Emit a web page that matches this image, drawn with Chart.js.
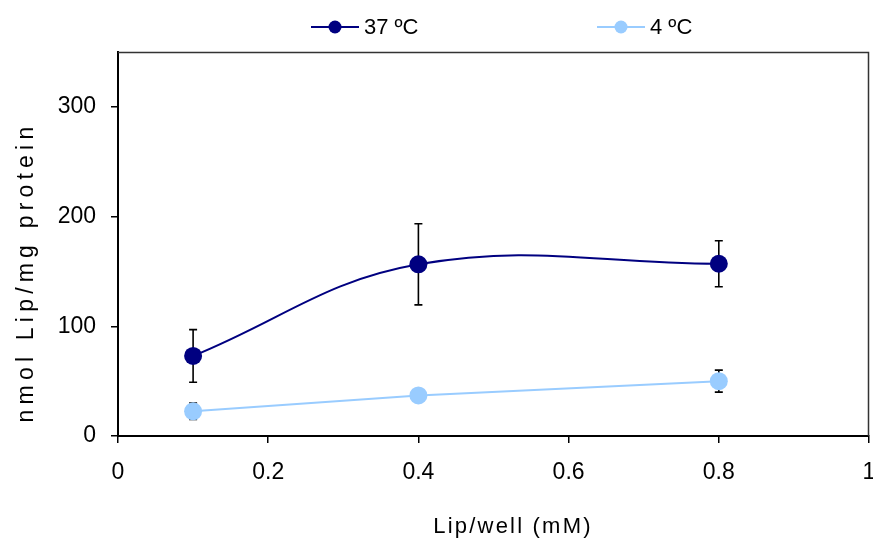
<!DOCTYPE html>
<html><head><meta charset="utf-8">
<script src="https://cdn.jsdelivr.net/npm/chart.js@4.4.1/dist/chart.umd.min.js"></script>
<style>html,body{margin:0;padding:0;background:#fff;overflow:hidden}#wrap{width:873px;height:541px;overflow:hidden}</style>
</head><body><div id="wrap"><canvas id="c" width="909" height="541"></canvas></div>
<script>
// ---- data ----
const xValues = [0.1, 0.4, 0.8];
const series37 = [73, 156.5, 157];
const error37 = [24, 37, 21];
const series4 = [22.5, 37, 50];
const error4 = [7.5, 6, 10];
const seriesLabels = ['37 ºC', '4 ºC'];
const xTicks = [0, 0.2, 0.4, 0.6, 0.8, 1];
const yTicks = [0, 100, 200, 300];
const xTitle = 'Lip/well (mM)';
const yTitle = 'nmol Lip/mg protein';

const FONT = '"Liberation Sans", Arial, sans-serif';
const colors = ['#000080', '#99CCFF'];

const errorBars = {
  id: 'errorBars',
  beforeDatasetsDraw(chart) {
    const {ctx, scales: {x, y}} = chart;
    ctx.save();
    ctx.strokeStyle = '#000';
    ctx.lineWidth = 1.6;
    [[series37, error37], [series4, error4]].forEach(([vals, errs]) => {
      vals.forEach((v, i) => {
        const px = x.getPixelForValue(xValues[i]);
        const top = y.getPixelForValue(v + errs[i]);
        const bot = y.getPixelForValue(v - errs[i]);
        ctx.beginPath();
        ctx.moveTo(px, top); ctx.lineTo(px, bot);
        ctx.moveTo(px - 4, top); ctx.lineTo(px + 4, top);
        ctx.moveTo(px - 4, bot); ctx.lineTo(px + 4, bot);
        ctx.stroke();
      });
    });
    ctx.restore();
  }
};

const frame = {
  id: 'frame',
  beforeDatasetsDraw(chart) {
    const {ctx, chartArea: a} = chart;
    ctx.save();
    ctx.strokeStyle = '#333';
    ctx.lineWidth = 1.5;
    ctx.beginPath();
    ctx.moveTo(a.left, a.top + 0.5);
    ctx.lineTo(a.right - 0.5, a.top + 0.5);
    ctx.lineTo(a.right - 0.5, a.bottom);
    ctx.stroke();
    ctx.restore();
  }
};

const texts = {
  id: 'texts',
  afterDraw(chart) {
    const {ctx} = chart;
    ctx.save();
    ctx.fillStyle = '#000';
    // x title
    ctx.font = '22px ' + FONT;
    ctx.letterSpacing = '2.2px';
    ctx.textAlign = 'center';
    ctx.textBaseline = 'alphabetic';
    ctx.fillText(xTitle, 513, 533);
    // y title
    ctx.font = '23px ' + FONT;
    ctx.letterSpacing = '5.2px';
    ctx.translate(33, 272);
    ctx.rotate(-Math.PI / 2);
    ctx.fillText(yTitle, 0, 0);
    ctx.restore();

    // legend
    const items = [311, 597];
    ctx.save();
    chart.data.datasets.forEach((ds, i) => {
      const x0 = items[i], yc = 27;
      ctx.strokeStyle = ds.borderColor;
      ctx.lineWidth = 2;
      ctx.beginPath();
      ctx.moveTo(x0, yc); ctx.lineTo(x0 + 48, yc);
      ctx.stroke();
      ctx.fillStyle = ds.backgroundColor;
      ctx.beginPath();
      ctx.arc(x0 + 24, yc, 6.5, 0, Math.PI * 2);
      ctx.fill();
      ctx.fillStyle = '#000';
      ctx.font = '22px ' + FONT;
      ctx.textAlign = 'left';
      ctx.textBaseline = 'middle';
      ctx.fillText(ds.label, x0 + 53, yc + 1);
    });
    ctx.restore();
  }
};

new Chart(document.getElementById('c'), {
  type: 'line',
  data: {
    datasets: [
      {
        label: seriesLabels[0],
        data: xValues.map((x, i) => ({x, y: series37[i]})),
        borderColor: colors[0], backgroundColor: colors[0],
        borderWidth: 2, pointRadius: 9, pointBorderWidth: 0,
        pointHoverRadius: 9, tension: 0.4
      },
      {
        label: seriesLabels[1],
        data: xValues.map((x, i) => ({x, y: series4[i]})),
        borderColor: colors[1], backgroundColor: colors[1],
        borderWidth: 2, pointRadius: 9, pointBorderWidth: 0,
        pointHoverRadius: 9, tension: 0
      }
    ]
  },
  options: {
    responsive: false,
    animation: false,
    devicePixelRatio: 1,
    layout: {padding: {top: 52, right: 40, left: 0, bottom: 0}},
    plugins: {legend: {display: false}, tooltip: {enabled: false}},
    scales: {
      x: {
        type: 'linear', min: 0, max: 1,
        afterBuildTicks: s => { s.ticks = xTicks.map(v => ({value: v})); },
        afterFit: s => { s.height = 105; },
        grid: {drawOnChartArea: false, color: '#000', lineWidth: 1.5, tickLength: 7},
        border: {color: '#000', width: 2},
        ticks: {color: '#000', font: {family: FONT, size: 23}, padding: 16, maxRotation: 0,
          callback: v => String(Number(v.toFixed(1)))}
      },
      y: {
        type: 'linear', min: 0, max: 350,
        afterBuildTicks: s => { s.ticks = yTicks.map(v => ({value: v})); },
        afterFit: s => { s.width = 118; },
        grid: {drawOnChartArea: false, color: '#000', lineWidth: 1.5, tickLength: 7},
        border: {color: '#000', width: 2},
        ticks: {color: '#000', font: {family: FONT, size: 23}, padding: 15}
      }
    }
  },
  plugins: [frame, errorBars, texts]
});
</script></body></html>
